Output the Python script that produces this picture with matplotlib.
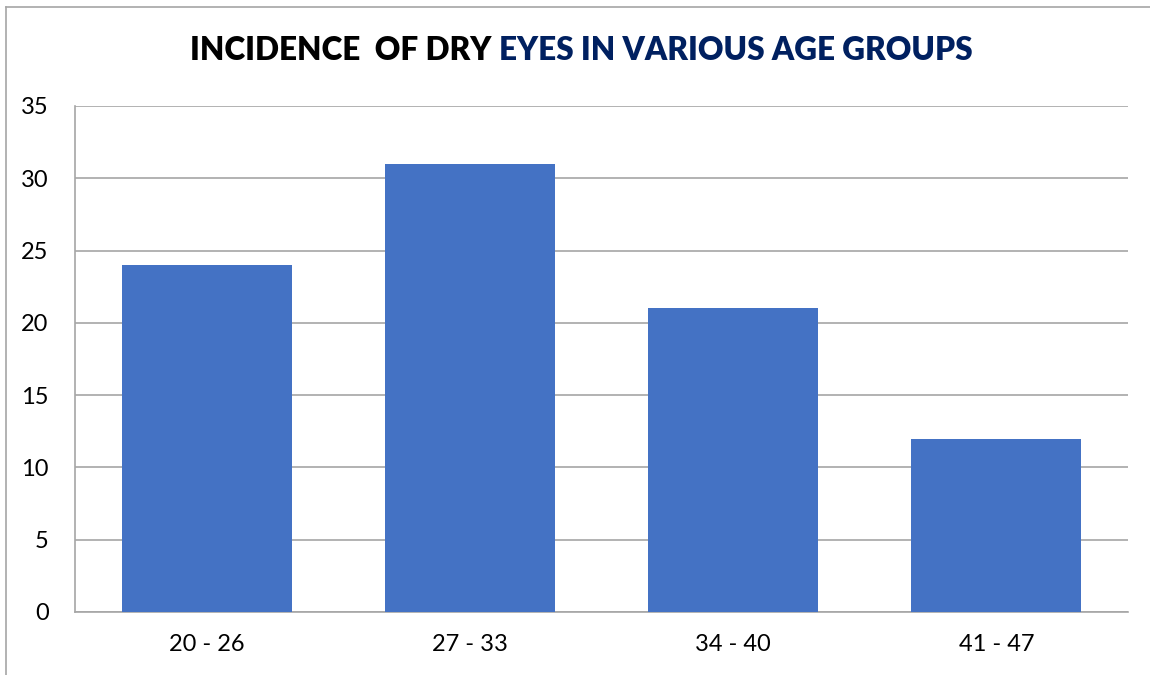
import matplotlib
matplotlib.use('Agg')
import matplotlib.pyplot as plt
from matplotlib.lines import Line2D

# dados do grafico
faixas = ['20 - 26', '27 - 33', '34 - 40', '41 - 47']
casos = [24, 31, 21, 12]
yticks = [0, 5, 10, 15, 20, 25, 30, 35]

plt.rcParams['font.family'] = ['Lato', 'DejaVu Sans']

fig = plt.figure(figsize=(11.5, 6.75), dpi=100)
ax = fig.add_axes([75/1150, 1 - 612/675, (1128 - 75)/1150, (612 - 106)/675])

ax.bar(faixas, casos, width=0.645, color='#4472C4', zorder=3)
ax.set_ylim(0, 35)
ax.set_xlim(-0.5, 3.5)
ax.set_yticks(yticks)
ax.grid(axis='y', color='#A6A6A6', linewidth=1.2, zorder=0)
ax.tick_params(length=0, labelsize=17, colors='black')
ax.tick_params(axis='y', pad=19)
ax.tick_params(axis='x', pad=16)
for s in ['top', 'right']:
    ax.spines[s].set_visible(False)
for s in ['left', 'bottom']:
    ax.spines[s].set_color('#A6A6A6')
    ax.spines[s].set_linewidth(1.2)

# titulo em duas cores
t1 = fig.text(190/1150, 1 - 50/675, 'INCIDENCE  OF DRY ', fontsize=22.7,
              fontweight='heavy', color='black', va='center', ha='left')
ax.annotate('EYES IN VARIOUS AGE GROUPS', xy=(1, 0.5), xycoords=t1,
            fontsize=22.7, fontweight='heavy', color='#002060', va='center', ha='left')

# borda do grafico
fig.add_artist(Line2D([6/1150, 6/1150], [0, 1 - 7/675], color='#A6A6A6', linewidth=1.2))
fig.add_artist(Line2D([6/1150, 1], [1 - 7/675, 1 - 7/675], color='#A6A6A6', linewidth=1.2))

fig.savefig('out.png', dpi=100)
